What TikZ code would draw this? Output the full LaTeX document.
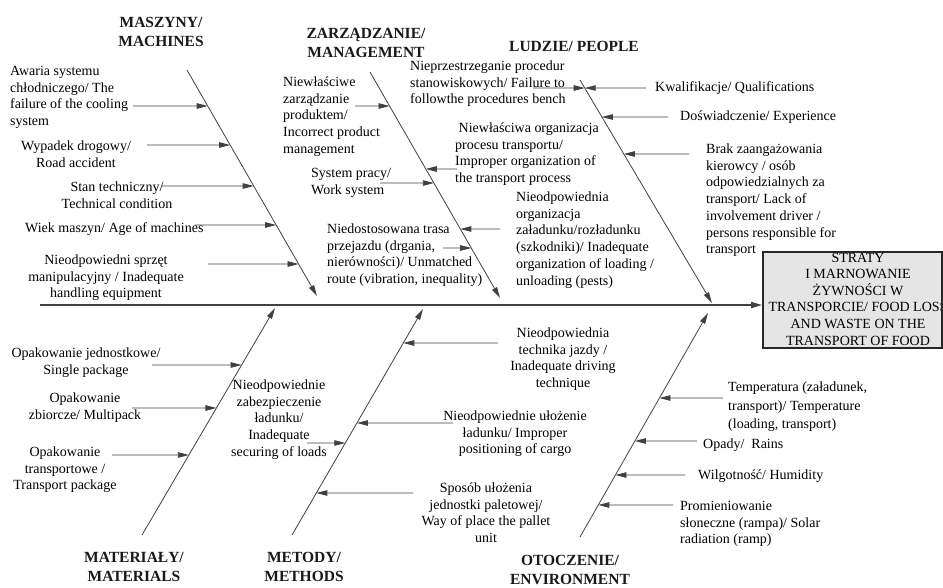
\documentclass[tikz,border=0pt]{standalone}
\usepackage{fontspec}
\setmainfont{Liberation Serif}
\usetikzlibrary{arrows.meta,calc}
\tikzset{
  txt/.style={font=\fontsize{14}{16.7}\selectfont, inner sep=0pt, text=black},
  txtl/.style={txt, align=left, anchor=base west},
  txtc/.style={txt, align=center, anchor=base},
  hd/.style={font=\fontsize{15.5}{19}\selectfont\bfseries, inner sep=0pt, align=center, anchor=base, text=black!90},
  bone/.style={draw=black!75, line width=0.8pt, -{Triangle[length=11pt,width=5.5pt]}},
  cause/.style={draw=black!75, line width=0.8pt, -{Triangle[length=11pt,width=5.5pt]}},
  spine/.style={draw=black!75, line width=1.6pt, -{Triangle[length=11pt,width=6pt]}},
  goalbox/.style={draw=black!85, line width=1.8pt, fill=black!10, minimum width=179pt, minimum height=96pt, inner sep=0pt},
  goaltxt/.style={font=\fontsize{14}{16.6}\selectfont, inner sep=0pt, align=center, anchor=base, text=black}
}
\begin{document}
\begin{tikzpicture}[x=1pt,y=-1pt]
\useasboundingbox (0,0) rectangle (943,587);

% bones
\coordinate (mT) at (187,70);  \coordinate (mB) at (317,296);
\coordinate (gT) at (370,72);  \coordinate (gB) at (500,298);
\coordinate (pT) at (580,80);  \coordinate (pB) at (712,303);
\coordinate (aB) at (142,535); \coordinate (aT) at (275,308);
\coordinate (tB) at (292,535); \coordinate (tT) at (423,309);
\coordinate (eB) at (580,537); \coordinate (eT) at (708,313);
\coordinate (sp) at (40,305);

% goal box
\node[goalbox] (goal) at (852.5,300) {};
\begin{scope}
  \clip (goal.south west) rectangle (goal.north east);
  \node[goaltxt] (goalt) at (858,345) {STRATY\\I MARNOWANIE\\ŻYWNOŚCI W\\TRANSPORCIE/ FOOD LOSS\\AND WASTE ON THE\\TRANSPORT OF FOOD};
\end{scope}
\node[goalbox, fill=none] (goalframe) at (852.5,300) {};

\draw[spine] (sp) -- (sp -| goal.west);
\draw[bone] (mT) -- (mB);
\draw[bone] (gT) -- (gB);
\draw[bone] (pT) -- (pB);
\draw[bone] (aB) -- (aT);
\draw[bone] (tB) -- (tT);
\draw[bone] (eB) -- (eT);

% headings
\node[hd] (h1) at (161,46) {MASZYNY/\\MACHINES};
\node[hd] (h2) at (366,57) {ZARZĄDZANIE/\\MANAGEMENT};
\node[hd] (h3) at (574,51) {LUDZIE/ PEOPLE};
\node[hd] (h4) at (134,581) {MATERIAŁY/\\MATERIALS};
\node[hd] (h5) at (304,581) {METODY/\\METHODS};
\node[hd] (h6) at (570,584.5) {OTOCZENIE/\\ENVIRONMENT};

% machines
\node[txtl] (m1) at (10,125.6) {Awaria systemu\\chłodniczego/ The\\failure of the cooling\\system};
\node[txtc] (m2) at (76,167.2) {Wypadek drogowy/\\Road accident};
\node[txtc] (m3) at (117,208.2) {Stan techniczny/\\Technical condition};
\node[txtl] (m4) at (25,232.5) {Wiek maszyn/ Age of machines};
\node[txtc] (m5) at (106,297.9) {Nieodpowiedni sprzęt\\manipulacyjny / Inadequate\\handling equipment};
\coordinate (m1s) at (133,106); \coordinate (m1e) at ($(mT)!0.1593!(mB)$);
\coordinate (m2s) at (147,145); \coordinate (m2e) at ($(mT)!0.3319!(mB)$);
\coordinate (m3s) at (161,186); \coordinate (m3e) at ($(mT)!0.5133!(mB)$);
\coordinate (m4s) at (195,225); \coordinate (m4e) at ($(mT)!0.6858!(mB)$);
\coordinate (m5s) at (208,264); \coordinate (m5e) at ($(mT)!0.8584!(mB)$);
\foreach \i in {1,...,5} {\draw[cause] (m\i s) -- (m\i e);}

% management
\node[txtl] (g1) at (283,153.3) {Niewłaściwe\\zarządzanie\\produktem/\\Incorrect product\\management};
\node[txtl] (g2) at (311,194.2) {System pracy/\\Work system};
\node[txtl] (g3) at (327,283.6) {Niedostosowana trasa\\przejazdu (drgania,\\nierówności)/ Unmatched\\route (vibration, inequality)};
\node[txtl] (g4) at (455,182.6) {\ Niewłaściwa organizacja\\procesu transportu/\\Improper organization of\\the transport process};
\node[txtl] (g5) at (516,285) {Nieodpowiednia\\organizacja\\załadunku/rozładunku\\(szkodniki)/ Inadequate\\organization of loading /\\unloading (pests)};
\coordinate (g1s) at (355,106); \coordinate (g1e) at ($(gT)!0.1504!(gB)$);
\coordinate (g2s) at (380,183); \coordinate (g2e) at ($(gT)!0.4912!(gB)$);
\coordinate (g3s) at (443,248); \coordinate (g3e) at ($(gT)!0.7788!(gB)$);
\coordinate (g4s) at (457,169); \coordinate (g4e) at ($(gT)!0.4292!(gB)$);
\coordinate (g5s) at (500,229); \coordinate (g5e) at ($(gT)!0.6947!(gB)$);
\foreach \i in {1,...,5} {\draw[cause] (g\i s) -- (g\i e);}

% people
\node[txtl] (p1) at (410,103.9) {Nieprzestrzeganie procedur\\stanowiskowych/ Failure to\\followthe procedures bench};
\node[txtl] (p2) at (655,91.5) {Kwalifikacje/ Qualifications};
\node[txtl] (p3) at (680,120.5) {Doświadczenie/ Experience};
\node[txtl] (p4) at (706,253.7) {Brak zaangażowania\\kierowcy / osób\\odpowiedzialnych za\\transport/ Lack of\\involvement driver /\\persons responsible for\\transport};
\coordinate (p1s) at (533,88); \coordinate (p1e) at ($(pT)!0.0359!(pB)$);
\coordinate (p2s) at (646,88); \coordinate (p2e) at ($(pT)!0.0359!(pB)$);
\coordinate (p3s) at (668,117); \coordinate (p3e) at ($(pT)!0.1659!(pB)$);
\coordinate (p4s) at (689,154); \coordinate (p4e) at ($(pT)!0.3318!(pB)$);
\foreach \i in {1,...,4} {\draw[cause] (p\i s) -- (p\i e);}

% materials
\node[txtc] (a1) at (86,374.2) {Opakowanie jednostkowe/\\Single package};
\node[txtc] (a2) at (85,419.2) {Opakowanie\\zbiorcze/ Multipack};
\node[txtc] (a3) at (65,489.9) {Opakowanie\\transportowe /\\Transport package};
\coordinate (a1s) at (152,365); \coordinate (a1e) at ($(aB)!0.7489!(aT)$);
\coordinate (a2s) at (132,408); \coordinate (a2e) at ($(aB)!0.5595!(aT)$);
\coordinate (a3s) at (112,455); \coordinate (a3e) at ($(aB)!0.3524!(aT)$);
\foreach \i in {1,...,3} {\draw[cause] (a\i s) -- (a\i e);}

% methods
\node[txtc] (t1) at (279,456.3) {Nieodpowiednie\\zabezpieczenie\\ładunku/\\Inadequate\\securing of loads};
\node[txtc] (t2) at (563,387.6) {Nieodpowiednia\\technika jazdy /\\Inadequate driving\\technique};
\node[txtc] (t3) at (515,453.9) {Nieodpowiednie ułożenie\\ładunku/ Improper\\positioning of cargo};
\node[txtc] (t4) at (486,542.6) {Sposób ułożenia\\jednostki paletowej/\\Way of place the pallet\\unit};
\coordinate (t1s) at (307,443); \coordinate (t1e) at ($(tB)!0.4071!(tT)$);
\coordinate (t2s) at (498,343); \coordinate (t2e) at ($(tB)!0.8496!(tT)$);
\coordinate (t3s) at (453,423); \coordinate (t3e) at ($(tB)!0.4956!(tT)$);
\coordinate (t4s) at (413,493); \coordinate (t4e) at ($(tB)!0.1858!(tT)$);
\foreach \i in {1,...,4} {\draw[cause] (t\i s) -- (t\i e);}

% environment
\node[txtl, font=\fontsize{14}{18.5}\selectfont] (e1) at (728,428.5) {Temperatura (załadunek,\\transport)/ Temperature\\(loading, transport)};
\node[txtl] (e2) at (703,448.5) {Opady/~ Rains};
\node[txtl] (e3) at (698,479.5) {Wilgotność/ Humidity};
\node[txtl] (e4) at (680,543.9) {Promieniowanie\\słoneczne (rampa)/ Solar\\radiation (ramp)};
\coordinate (e1s) at (723,398); \coordinate (e1e) at ($(eB)!0.6205!(eT)$);
\coordinate (e2s) at (697,441); \coordinate (e2e) at ($(eB)!0.4286!(eT)$);
\coordinate (e3s) at (685,475); \coordinate (e3e) at ($(eB)!0.2768!(eT)$);
\coordinate (e4s) at (673,505); \coordinate (e4e) at ($(eB)!0.1429!(eT)$);
\foreach \i in {1,...,4} {\draw[cause] (e\i s) -- (e\i e);}
\end{tikzpicture}
\end{document}
